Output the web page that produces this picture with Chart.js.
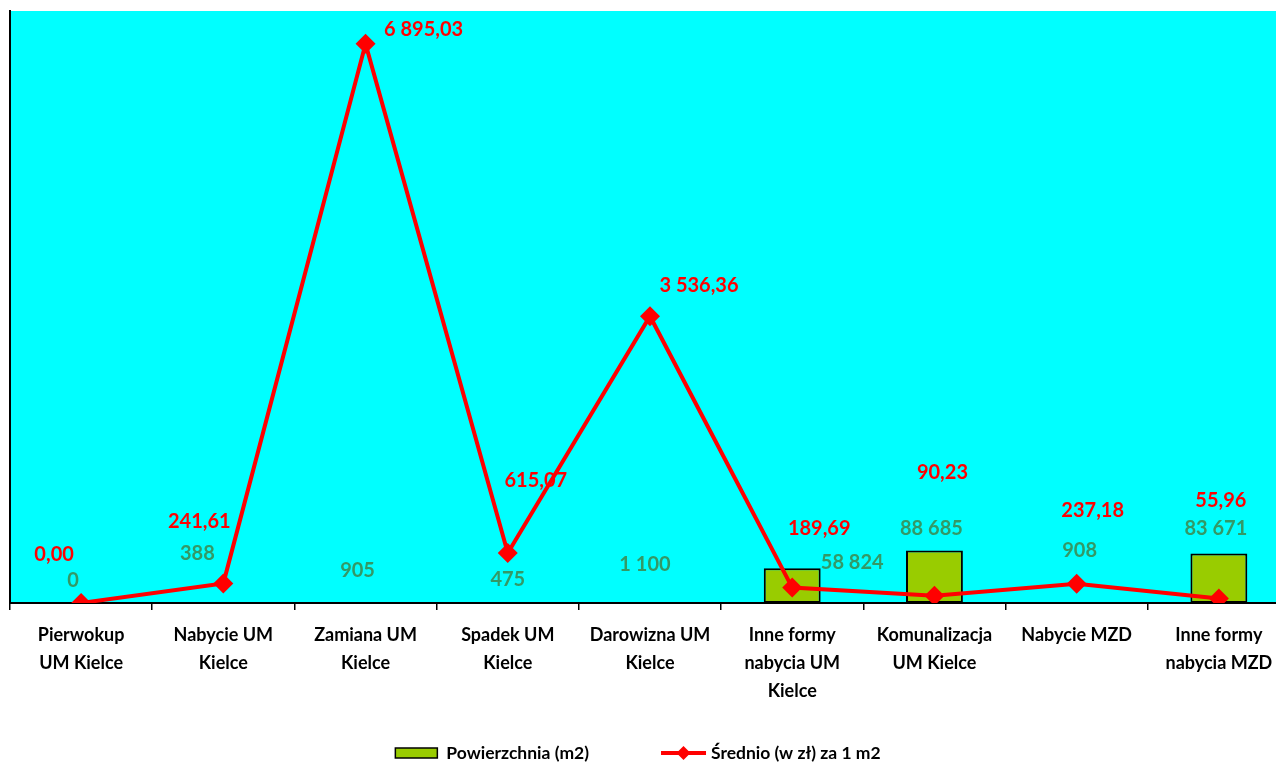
<!DOCTYPE html>
<html>
<head>
<meta charset="utf-8">
<script src="https://cdn.jsdelivr.net/npm/chart.js@4.4.1/dist/chart.umd.min.js"></script>
<style>
  html, body { margin: 0; padding: 0; background: #ffffff; overflow: hidden; width: 1276px; height: 762px; }
  #wrap { position: absolute; left: 0; top: 0; width: 1300px; height: 762px; }
</style>
</head>
<body>
<div id="wrap"><canvas id="c" width="1300" height="762"></canvas></div>
<script>
// ---- data ----
const categories = [
  ['Pierwokup', 'UM Kielce'],
  ['Nabycie UM', 'Kielce'],
  ['Zamiana UM', 'Kielce'],
  ['Spadek UM', 'Kielce'],
  ['Darowizna UM', 'Kielce'],
  ['Inne formy', 'nabycia UM', 'Kielce'],
  ['Komunalizacja', 'UM Kielce'],
  ['Nabycie MZD'],
  ['Inne formy', 'nabycia MZD']
];
const areaValues = [0, 388, 905, 475, 1100, 58824, 88685, 908, 83671];
const priceValues = [0, 241.61, 6895.03, 615.07, 3536.36, 189.69, 90.23, 237.18, 55.96];
const areaName = 'Powierzchnia (m2)';
const priceName = 'Średnio (w zł) za 1 m2';
const areaDecimals = 0;
const priceDecimals = 2;

// ---- label placement (pixel offsets from each mark) ----
const priceLabelOffsets = [[-27,-48],[-24,-62],[58,-14],[28,-73],[49,-31],[27,-59],[8,-123],[16,-73],[2,-98]];
const areaLabelOffsets = [[-8,-22],[-26,-49],[-8,-32],[0,-23],[-5,-38],[60,-6],[-3,-22],[3,-52],[-3,-25]];

const FONT = 'Lato, "Open Sans", "DejaVu Sans", sans-serif';
const BAR_COLOR = '#99CC00';
const LINE_COLOR = '#FF0000';
const AREA_LABEL_COLOR = '#339966';

function fmt(v, dec) {
  const s = v.toFixed(dec);
  const parts = s.split('.');
  const i = parts[0].replace(/\B(?=(\d{3})+(?!\d))/g, ' ');
  return parts.length > 1 ? i + ',' + parts[1] : i;
}

const bgPlugin = {
  id: 'plotBg',
  beforeDraw(chart) {
    const { ctx, chartArea: a } = chart;
    ctx.save();
    ctx.fillStyle = '#00FFFF';
    ctx.fillRect(a.left, a.top, a.right - a.left, a.bottom - a.top);
    ctx.restore();
  }
};

const labelPlugin = {
  id: 'valueLabels',
  afterDatasetsDraw(chart) {
    const ctx = chart.ctx;
    ctx.save();
    ctx.font = 'bold 20px ' + FONT;
    ctx.textAlign = 'center';
    ctx.textBaseline = 'middle';
    chart.data.datasets.forEach((ds, di) => {
      const meta = chart.getDatasetMeta(di);
      const isLine = ds.type === 'line';
      const offs = isLine ? priceLabelOffsets : areaLabelOffsets;
      ctx.fillStyle = isLine ? LINE_COLOR : AREA_LABEL_COLOR;
      meta.data.forEach((el, i) => {
        const txt = fmt(ds.data[i], isLine ? priceDecimals : areaDecimals);
        ctx.fillText(txt, el.x + offs[i][0], el.y + offs[i][1]);
      });
    });
    ctx.restore();
  }
};

const legendPlugin = {
  id: 'customLegend',
  afterDraw(chart) {
    const ctx = chart.ctx;
    ctx.save();
    ctx.font = 'bold 17.5px ' + FONT;
    ctx.textBaseline = 'middle';
    ctx.textAlign = 'left';
    const w1 = ctx.measureText(areaName).width;
    const w2 = ctx.measureText(priceName).width;
    const boxW = 42, gap1 = 9, between = 72, lineW = 45, gap2 = 5;
    const total = boxW + gap1 + w1 + between + lineW + gap2 + w2;
    let x = 638 - total / 2;
    const y = 753;
    ctx.fillStyle = BAR_COLOR;
    ctx.strokeStyle = '#000';
    ctx.lineWidth = 1.5;
    ctx.fillRect(x, y - 5, boxW, 10);
    ctx.strokeRect(x, y - 5, boxW, 10);
    x += boxW + gap1;
    ctx.fillStyle = '#000';
    ctx.fillText(areaName, x, y);
    x += w1 + between;
    ctx.strokeStyle = LINE_COLOR;
    ctx.lineWidth = 4;
    ctx.beginPath();
    ctx.moveTo(x, y);
    ctx.lineTo(x + lineW, y);
    ctx.stroke();
    const cx = x + lineW / 2;
    ctx.fillStyle = LINE_COLOR;
    ctx.beginPath();
    ctx.moveTo(cx, y - 7);
    ctx.lineTo(cx + 7, y);
    ctx.lineTo(cx, y + 7);
    ctx.lineTo(cx - 7, y);
    ctx.closePath();
    ctx.fill();
    x += lineW + gap2;
    ctx.fillStyle = '#000';
    ctx.fillText(priceName, x, y);
    ctx.restore();
  }
};

new Chart(document.getElementById('c'), {
  data: {
    labels: categories,
    datasets: [
      {
        type: 'line',
        label: priceName,
        data: priceValues,
        yAxisID: 'y',
        order: 0,
        borderColor: LINE_COLOR,
        backgroundColor: LINE_COLOR,
        borderWidth: 4,
        tension: 0,
        pointStyle: 'rectRot',
        pointRadius: 10,
        pointBackgroundColor: LINE_COLOR,
        pointBorderColor: LINE_COLOR,
        pointBorderWidth: 0
      },
      {
        type: 'bar',
        label: areaName,
        data: areaValues,
        yAxisID: 'yArea',
        order: 1,
        backgroundColor: BAR_COLOR,
        borderColor: '#000000',
        borderWidth: 2,
        borderSkipped: false,
        barPercentage: 0.4,
        categoryPercentage: 1.0
      }
    ]
  },
  options: {
    responsive: false,
    animation: false,
    events: [],
    layout: { padding: { left: 10, right: 8, top: 11, bottom: 46 } },
    plugins: {
      legend: { display: false },
      tooltip: { enabled: false }
    },
    scales: {
      x: {
        type: 'category',
        offset: true,
        grid: {
          display: true,
          offset: true,
          drawOnChartArea: false,
          drawTicks: true,
          tickLength: 7,
          color: '#000000',
          lineWidth: 1.5
        },
        border: { display: true, color: '#000000', width: 2 },
        ticks: {
          autoSkip: false,
          maxRotation: 0,
          minRotation: 0,
          padding: 11,
          color: '#000000',
          font: { family: FONT, size: 18, weight: 'bold', lineHeight: 1.556 }
        }
      },
      y: {
        type: 'linear',
        position: 'left',
        min: 0,
        max: 7300,
        grid: { display: false, drawTicks: false },
        border: { display: true, color: '#000000', width: 2 },
        ticks: { display: false },
        afterFit(scale) { scale.width = 0; }
      },
      yArea: {
        type: 'linear',
        position: 'left',
        display: false,
        min: 0,
        max: 1000000
      }
    }
  },
  plugins: [bgPlugin, labelPlugin, legendPlugin]
});
</script>
</body>
</html>
